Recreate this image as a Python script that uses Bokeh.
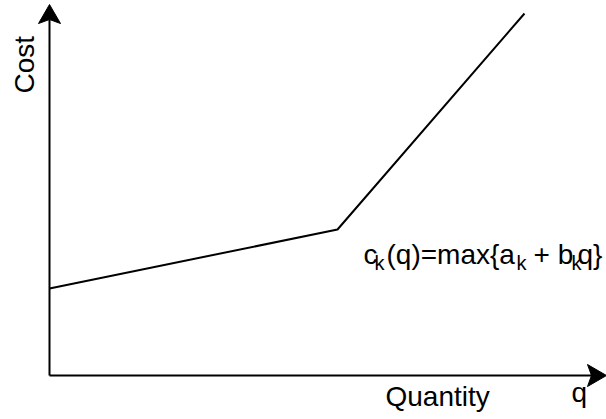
from bokeh.plotting import figure
from bokeh.models import Range1d
from bokeh.core.properties import value
from bokeh.embed import file_html
from bokeh.resources import INLINE
import math

# Data: piecewise-linear cost curve (quantity, cost) in chart units
quantity = [0, 288, 475]
cost = [87, 146, 362]

# Axis extents (chart units)
x_axis_end = 557
y_axis_end = 371
head_len = 15
head_half = 11
notch = 4

FONT = value("Liberation Sans")

p = figure(width=606, height=419, output_backend="svg", toolbar_location=None,
           x_range=Range1d(-49, 557), y_range=Range1d(-44, 375),
           x_axis_type=None, y_axis_type=None, min_border=0,
           outline_line_color=None, background_fill_color="white",
           border_fill_color="white")
p.grid.visible = False

# axes lines
p.line([0, 0], [0, y_axis_end - head_len - notch + 4], line_color="black", line_width=2)
p.line([0, x_axis_end - head_len + notch], [0, 0], line_color="black", line_width=2)

# arrowheads (stealth shape)
p.patch([0, -head_half, 0, head_half],
        [y_axis_end, y_axis_end - head_len - notch, y_axis_end - head_len, y_axis_end - head_len - notch],
        fill_color="black", line_color="black", line_width=1)
p.patch([x_axis_end, x_axis_end - head_len - notch, x_axis_end - head_len, x_axis_end - head_len - notch],
        [0, head_half, 0, -head_half],
        fill_color="black", line_color="black", line_width=1)

# cost curve
p.line(quantity, cost, line_color="black", line_width=2)

# labels
p.text(x=[-25], y=[282], text=["Cost"], angle=math.pi / 2, text_font=FONT,
       text_font_size="28px", text_align="left", text_baseline="alphabetic", text_color="black")
p.text(x=[336], y=[-21], text=["Quantity"], text_font=FONT,
       text_font_size="28px", text_align="left", text_baseline="alphabetic", text_color="black")
p.text(x=[522], y=[-17], text=["q"], text_font=FONT,
       text_font_size="28px", text_align="left", text_baseline="alphabetic", text_color="black")

main_x = [314, 337, 484, 528]
main_t = ["c", "(q)=max{a", "+ b", "q}"]
sub_x = [325, 467, 522]
sub_t = ["k", "k", "k"]
p.text(x=main_x, y=[121] * 4, text=main_t, text_font=FONT, text_font_size="28px",
       text_align="left", text_baseline="alphabetic", text_color="black")
p.text(x=sub_x, y=[113] * 3, text=sub_t, text_font=FONT, text_font_size="20px",
       text_align="left", text_baseline="alphabetic", text_color="black")

open("out.html", "w").write(file_html(p, INLINE))
